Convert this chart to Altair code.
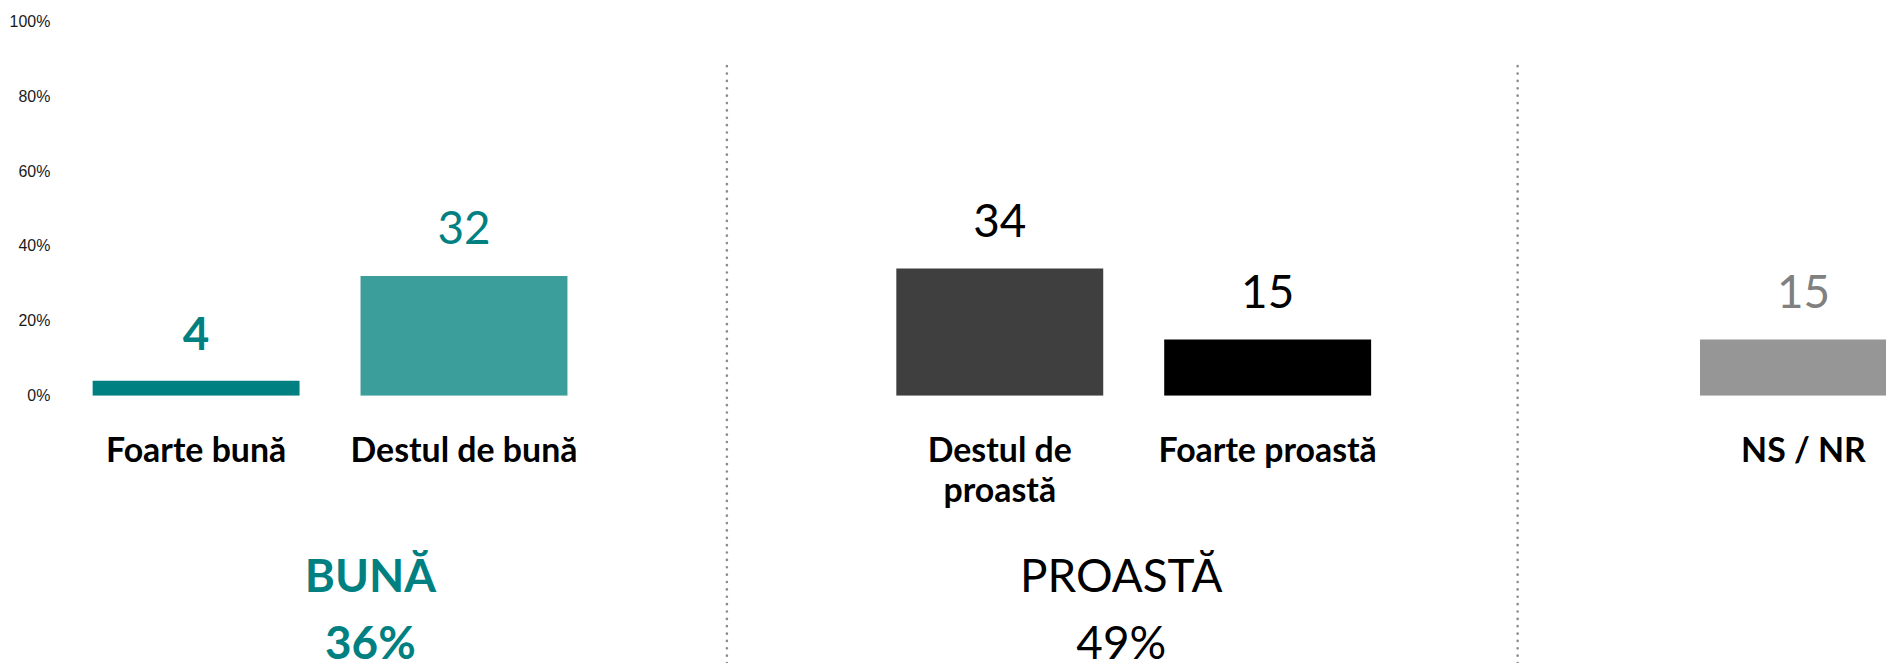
import altair as alt
import pandas as pd

# ---- data ----
categories = ["Foarte bună", "Destul de bună", "gap1", "Destul de proastă", "Foarte proastă", "gap2", "NS / NR"]
bar_categories = ["Foarte bună", "Destul de bună", "Destul de proastă", "Foarte proastă", "NS / NR"]
values = [4, 32, 34, 15, 15]
cat_labels = ["Foarte bună", "Destul de bună", "Destul de\nproastă", "Foarte proastă", "NS / NR"]
bar_colors = ["#008080", "#3b9e9a", "#3f3f3f", "#000000", "#969696"]
text_colors = ["#008080", "#008080", "#000000", "#000000", "#808080"]
group_names = ["BUNĂ", "PROASTĂ"]
group_totals = ["36%", "49%"]
group_anchor = ["Destul de bună", "Destul de proastă"]
separators = ["gap1", "gap2"]
y_ticks = [0, 20, 40, 60, 80, 100]

df = pd.DataFrame({"cat": bar_categories, "val": values, "label": cat_labels})
groups = pd.DataFrame({"cat": group_anchor, "name": group_names, "total": group_totals})
groups["text"] = groups["name"] + "\n" + groups["total"]

FONT = "Lato"

xscale = alt.Scale(domain=categories, range=[33, 1855], paddingInner=0.2276, paddingOuter=0)
yscale = alt.Scale(domain=[0, 100], nice=False)
y_axis = alt.Axis(values=y_ticks, labelExpr="datum.value + '%'", grid=False,
                  domain=False, ticks=False, labelPadding=10, labelFontSize=16,
                  labelFont="Liberation Sans", labelColor="#1a1a1a", title=None)

x_enc = alt.X("cat:N", scale=xscale, axis=None, sort=categories)
y_enc = alt.Y("val:Q", scale=yscale, axis=y_axis)

base = alt.Chart(df)

bars = base.mark_bar(clip=True).encode(
    x=x_enc,
    y=y_enc,
    color=alt.Color("cat:N", scale=alt.Scale(domain=bar_categories, range=bar_colors), legend=None),
)

text_color = alt.Color("cat:N", scale=alt.Scale(domain=bar_categories, range=text_colors), legend=None)

val_bold = base.transform_filter(alt.datum.cat == "Foarte bună").mark_text(
    font=FONT, fontSize=46, fontWeight="bold", baseline="alphabetic", dy=-31
).encode(x=x_enc, y=y_enc, text="val:Q", color=text_color)

val_reg = base.transform_filter(alt.datum.cat != "Foarte bună").mark_text(
    font=FONT, fontSize=46, fontWeight="normal", baseline="alphabetic", dy=-32
).encode(x=x_enc, y=y_enc, text="val:Q", color=text_color)

zero_y = alt.YDatum(0, scale=yscale, axis=y_axis)

cat_text = base.mark_text(
    font=FONT, fontSize=34, fontWeight="bold", baseline="alphabetic", dy=67,
    lineBreak="\n", lineHeight=40, color="#000000"
).encode(x=x_enc, y=zero_y, text="label:N")

g = alt.Chart(groups)
grp_buna = g.transform_filter(alt.datum.name == "BUNĂ").mark_text(
    font=FONT, fontSize=46, fontWeight="bold", baseline="alphabetic", dy=197, dx=-94,
    lineBreak="\n", lineHeight=67, color="#008080"
).encode(x=x_enc, y=zero_y, text="text:N")
grp_proasta = g.transform_filter(alt.datum.name == "PROASTĂ").mark_text(
    font=FONT, fontSize=46, fontWeight="normal", baseline="alphabetic", dy=197, dx=122,
    lineBreak="\n", lineHeight=67, color="#000000"
).encode(x=x_enc, y=zero_y, text="text:N")

sep_df = pd.DataFrame({"cat": separators})
rules = []
for name, off in zip(separators, [-5, -18]):
    rules.append(
        alt.Chart(sep_df).transform_filter(alt.datum.cat == name).mark_rule(
            color="#8c8c8c", strokeWidth=2.6, strokeDash=[0.1, 7.3], strokeCap="round", xOffset=off
        ).encode(x=x_enc, y=alt.value(45), y2=alt.value(680))
    )

chart = alt.layer(bars, val_bold, val_reg, cat_text, grp_buna, grp_proasta, *rules).resolve_scale(
    color="independent"
).properties(
    width=1834, height=376,
    padding={"left": 52, "top": 12, "right": 0, "bottom": 267},
    autosize=alt.AutoSizeParams(type="none"),
).configure(background="white").configure_view(stroke=None).configure_axis(grid=False, domain=False, ticks=False)

chart.save("out.html", embed_options={"renderer": "svg", "actions": False})
